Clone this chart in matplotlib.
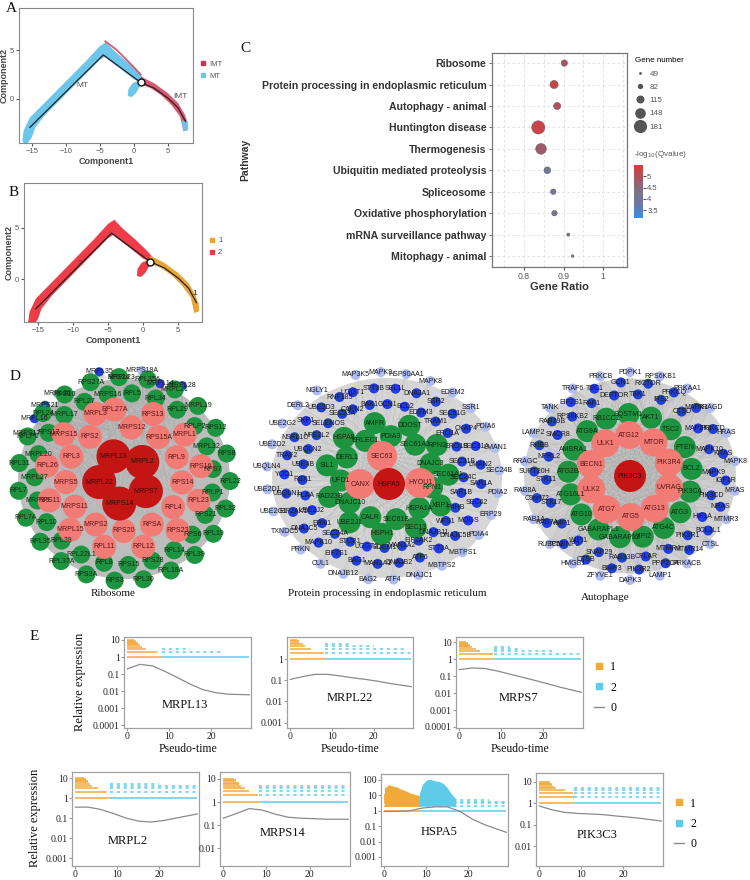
import numpy as np
import matplotlib
matplotlib.use('Agg')
import matplotlib.pyplot as plt
from matplotlib.patches import Circle, Ellipse
from matplotlib.lines import Line2D
from matplotlib.collections import LineCollection
from matplotlib.colors import LinearSegmentedColormap, Normalize
from matplotlib.cm import ScalarMappable
from matplotlib.ticker import NullLocator

SANS = 'Liberation Sans'
SERIF = 'Liberation Serif'
plt.rcParams['font.family'] = [SANS, 'DejaVu Sans']

# ===================== DATA =====================
# Panel A / B : pseudotime trajectory (Component1, Component2)
traj_x = [-15.3, -4.5, 1.0, 3.0, 5.0, 6.5, 7.6]
traj_y = [-2.9, 4.5, 1.7, 1.1, 0.1, -0.9, -2.3]
arm_x = [-16.4, -16.2, -15.3, -13, -10, -7, -5, -4.1, -3, -1, 0.5, 1.3,
         1.3, 0, -2, -4.3, -5, -7, -10, -13, -14.5, -15.0, -15.6, -16.2]
arm_y = [-4.2, -3.2, -1.9, -0.3, 1.8, 3.9, 5.4, 5.8, 5.0, 3.8, 2.8, 2.2,
         1.6, 2.0, 3.1, 4.3, 4.0, 2.6, 0.5, -1.6, -2.9, -3.9, -4.5, -4.6]
blob_x = [-0.9, -0.8, -0.2, 0.8, 0.9, 0.3, -0.3]
blob_y = [0.3, 1.0, 1.6, 1.9, 1.3, 0.6, 0.2]
branch_x = [1.0, 3.0, 5.0, 6.5, 7.5, 7.9, 7.9, 7.3, 6.8, 5.5, 4.0, 2.5, 1.0]
branch_y = [2.3, 1.6, 0.6, -0.4, -1.6, -2.4, -3.2, -3.3, -1.8, -0.6, 0.4, 1.1, 1.5]
tip_x = [7.0, 7.9, 8.0, 7.3]
tip_y = [-2.2, -2.3, -3.1, -3.3]
imt_edge_x = [-4.2, -2.5, -0.5, 1.0]
imt_edge_y = [5.9, 5.0, 3.6, 2.5]

# Panel C : KEGG enrichment
pathways = ['Ribosome', 'Protein processing in endoplasmic reticulum',
            'Autophagy - animal', 'Huntington disease', 'Thermogenesis',
            'Ubiquitin mediated proteolysis', 'Spliceosome',
            'Oxidative phosphorylation', 'mRNA surveillance pathway',
            'Mitophagy - animal']
gene_ratio = [0.902, 0.876, 0.884, 0.836, 0.843, 0.859, 0.874, 0.877, 0.912, 0.923]
gene_number = [95, 118, 105, 181, 150, 100, 84, 84, 55, 49]
neglog_q = [4.9, 5.3, 5.0, 5.3, 4.8, 4.0, 4.1, 4.2, 4.2, 4.2]
size_legend = [49, 82, 115, 148, 181]
q_ticks = [3.5, 4, 4.5, 5]

# Panel D : PPI networks (node names by layer)
ribo_core = ['MRPL13', 'MRPL2', 'MRPS7', 'MRPS14', 'MRPL22']
ribo_mid = ['RPL27A', 'MRPS12', 'RPS13', 'RPS15A', 'MRPL1', 'RPL9', 'RPS16', 'RPS14',
            'RPL23', 'RPL4', 'RPS23', 'RPSA', 'RPL12', 'RPS20', 'RPL11', 'MRPS2',
            'MRPL15', 'MRPS11', 'RPS11', 'MRPS5', 'RPL26', 'RPL3', 'MRPS15', 'RPS2', 'MRPL3']
ribo_outer = ['RPL31', 'MRPL20', 'RPLP0', 'RPS17', 'RPL24', 'MRPL17', 'RPS10', 'RPL27',
              'RPS27A', 'MRPS16', 'RPS24', 'RPL5', 'RPL35A', 'RPL34', 'MRPL21', 'RPL29',
              'MRPL19', 'RPLP2', 'RPS12', 'MRPL32', 'RPS8', 'RPS7', 'RPL22', 'RPLP1',
              'RPL32', 'RPS21', 'RPL19', 'RPS6', 'RPL39', 'RPL14', 'RPL18A', 'RPS28',
              'RPL30', 'RPS15', 'RPS3', 'RPL8', 'RPS3A', 'RPL22L1', 'RPL37A', 'RPL38',
              'RPL35', 'RPL10', 'RPL7A', 'MRPS9', 'RPL7', 'MRPL27']
ribo_rim_top = ['MRPL35', 'MRPL23', 'MRPS18A', 'MRPL14', 'MRPL28']
ribo_rim_left = ['MRPL36', 'MRPS21', 'MRPL16', 'MRPS17']

er_core = ['HSPA5']
er_mid = ['SEC63', 'HYOU1', 'CANX']
er_outer = ['SIL1', 'DERL1', 'HSPA8', 'ERLEC1', 'AMFR', 'PDIA3', 'DDOST', 'SEC61A2',
            'RPN2', 'DNAJC3', 'SEC61A1', 'RPN1', 'XBP1', 'HSPA1A', 'SEC13', 'SEC61B',
            'HSPH1', 'CALR', 'UBE2J1', 'DNAJC10', 'RAD23B', 'UFD1']
er_rim = ['CAPN2', 'UGGT1', 'MAP3K5', 'BAK1', 'STT3B', 'MAPK9', 'GCN1', 'SEL1L',
          'HSP90AA1', 'BCL2', 'DNAJA1', 'MAPK8', 'EDEM3', 'SSR2', 'EDEM2', 'TRAM1',
          'SEC61G', 'SSR1', 'ERO1A', 'CKAP4', 'PDIA6', 'ERO1B', 'SEC31A', 'LMAN1',
          'SEC31B', 'LMAN2', 'SEC24B', 'SEC24C', 'SAR1A', 'PDIA2', 'SAR1B', 'SEC62',
          'ERP29', 'P4HB', 'MOGS', 'PDIA4', 'WFS1', 'DNAJC5B', 'MBTPS1', 'DNAJB11',
          'STT3A', 'MBTPS2', 'EIF2AK2', 'ATF6', 'DNAJC1', 'MAN1A2', 'DNAJB2', 'ATF4',
          'EDEM1', 'MAN1A1', 'BAG2', 'UGGT2', 'BAG1', 'DNAJB12', 'STUB1', 'EIF2S1',
          'CUL1', 'SEC24A', 'MAPK10', 'PRKN', 'ERN1', 'DNAJC5', 'TXNDC5', 'UBE2J2',
          'EIF2AK1', 'UBE2G1', 'PLAA', 'UBQLN1', 'UBE2D1', 'RBX1', 'YOD1', 'UBQLN4',
          'UBE4B', 'TRAF2', 'UBE2D2', 'UBQLN2', 'NSFL1C', 'UBE2G2', 'NFE2L2', 'SKP1',
          'DERL2', 'SELENOS', 'UBE2D3', 'NGLY1', 'SEC23A', 'RNF185']

atg_core = ['PIK3C3']
atg_mid = ['ULK1', 'ATG12', 'MTOR', 'PIK3R4', 'UVRAG', 'ATG13', 'ATG5', 'ATG7', 'ULK2', 'BECN1']
atg_outer = ['ATG2B', 'AMBRA1', 'ATG9A', 'RB1CC1', 'SQSTM1', 'AKT1', 'TSC2', 'PTEN',
             'BCL2', 'PIK3CA', 'ATG3', 'ATG4C', 'WIPI2', 'GABARAPL2', 'GABARAPL1',
             'ATG10', 'ATG16L1']
atg_rim = ['SMCR8', 'RAB39B', 'TANK', 'RPS6KB2', 'EIF2S1', 'TRAF6', 'RAF1', 'TSC1',
           'PRKCB', 'DEPTOR', 'GCN1', 'PDPK1', 'TBK1', 'RICTOR', 'RPS6KB1', 'IRS2',
           'PRKCQ', 'PRKAA1', 'CTSD', 'MAPK1', 'RRAGD', 'MAP2K1', 'PRKCD', 'HRAS',
           'MAPK10', 'KRAS', 'MAPK8', 'MAPK9', 'IGF1R', 'MRAS', 'PIK3CD', 'NRAS',
           'MTMR3', 'HIF1A', 'BCL2L1', 'CTSL', 'PIK3R1', 'MTMR14', 'PRKACB', 'MTMR4',
           'PPP2CA', 'LAMP1', 'CFLAR', 'PIK3R2', 'DAPK3', 'RAB33B', 'BNIP3', 'ZFYVE1',
           'SNAP29', 'CTSB', 'HMGB1', 'WIPI1', 'TP53INP2', 'RUBCN', 'VMP1', 'RAB7A',
           'RAB1A', 'STX17', 'C9orf72', 'RAB8A', 'STK11', 'SUPT20H', 'RRAGC', 'NPRL2',
           'RHEB', 'LAMP2']

# Panel E : expression along pseudotime
pt_grid = [0, 3, 6, 9, 12, 15, 18, 21, 24, 29]
MRPL13_fit = [0.2, 0.37, 0.3, 0.14, 0.06, 0.025, 0.012, 0.008, 0.0065, 0.006]
MRPL22_fit = [0.11, 0.15, 0.19, 0.19, 0.16, 0.13, 0.11, 0.09, 0.07, 0.05]
MRPS7_fit = [0.24, 0.3, 0.28, 0.2, 0.13, 0.085, 0.055, 0.035, 0.022, 0.011]
MRPL2_fit = [0.35, 0.35, 0.27, 0.17, 0.1, 0.07, 0.063, 0.075, 0.1, 0.16]
MRPS14_fit = [0.2, 0.32, 0.52, 0.45, 0.3, 0.22, 0.2, 0.19, 0.18, 0.18]
HSPA5_fit = [0.9, 0.92, 1.0, 1.5, 1.8, 1.8, 0.9, 0.28, 0.12, 0.04]
PIK3C3_fit = [0.75, 0.5, 0.38, 0.34, 0.32, 0.3, 0.26, 0.23, 0.2, 0.15]
count_levels = [1, 2, 3, 4, 5, 6, 7, 8, 9, 10]
state_split = 8.3
# pseudotime at which each count level of state 1 / state 2 cells ends
MRPL13_s1 = [8.3, 7.0, 4.5, 3.5, 3.0, 2.5, 2.5, 2.0, 2.0, 1.5]
MRPL13_s2 = [29, 22, 15, 0, 0]
MRPL22_s1 = [8.3, 8.0, 5.0, 3.5, 3.0, 2.0, 2.0, 1.5, 0, 0]
MRPL22_s2 = [29, 29, 28, 20, 14]
MRPS7_s1 = [8.3, 8.0, 5.0, 4.0, 3.0, 2.5, 2.5, 2.0, 2.0, 1.5]
MRPS7_s2 = [29, 29, 22, 15, 12]
MRPL2_s1 = [8.3, 7.5, 5.5, 4.0, 3.5, 3.0, 3.0, 2.5, 2.5, 2.0]
MRPL2_s2 = [29, 29, 29, 29, 20]
MRPS14_s1 = [8.3, 8.0, 6.0, 5.0, 4.0, 3.5, 3.5, 3.0, 3.0, 2.5]
MRPS14_s2 = [29, 29, 29, 29, 29]
HSPA5_s1 = [8.3, 8.3, 8.0, 8.0, 7.0, 6.0, 6.0, 5.0, 5.0, 4.0]
HSPA5_s2 = [29, 29, 29, 29, 25]
PIK3C3_s1 = [8.3, 8.3, 8.0, 6.0, 4.0, 3.5, 3.0, 3.0, 2.5, 2.5]
PIK3C3_s2 = [29, 29, 29, 29, 29]
HSPA5_cloud1_x = [0, 1, 2, 3, 4, 5, 6, 7, 8.3]
HSPA5_cloud1_top = [30, 50, 40, 35, 25, 20, 15, 12, 10]
HSPA5_cloud2_x = [8.3, 9, 10, 11, 12, 13, 14, 15, 16, 17]
HSPA5_cloud2_top = [12, 50, 100, 110, 90, 80, 60, 30, 12, 6]

# ===================== FIGURE =====================
W, H = 750, 880
fig = plt.figure(figsize=(7.5, 8.8), dpi=100)


def px_axes(l, t, r, b):
    return fig.add_axes([l / W, 1 - b / H, (r - l) / W, (b - t) / H])


ax0 = fig.add_axes([0, 0, 1, 1])
ax0.set_xlim(0, W)
ax0.set_ylim(H, 0)
ax0.axis('off')

for letter, (lx, ly) in zip('ABCDE', [(6, 9), (9, 193), (240, 48), (10, 377), (30, 636)]):
    ax0.text(lx, ly, letter, fontsize=11, family=SERIF, ha='left', va='center', color='#111')

# ---------- Panels A and B ----------
c_mt, c_imt = '#6cc5ea', '#cf2f4e'
c_s1, c_s2 = '#e9a534', '#ee3d48'


def traj_axes(rect, xlim, ylim):
    ax = px_axes(*rect)
    ax.set_xlim(*xlim)
    ax.set_ylim(*ylim)
    ax.set_xticks([-15, -10, -5, 0, 5])
    ax.set_yticks([0, 5])
    ax.tick_params(labelsize=5.5, colors='#555', length=2, pad=1.5)
    for s in ax.spines.values():
        s.set_color('#888')
        s.set_linewidth(0.8)
    ax.set_xlabel('Component1', fontsize=6.5, fontweight='bold', color='#444', labelpad=1.5)
    ax.set_ylabel('Component2', fontsize=6.5, fontweight='bold', color='#444', labelpad=1)
    return ax


axA = traj_axes((19, 8, 193, 143), (-16.9, 8.7), (-4.5, 9.3))
axA.fill(arm_x, arm_y, color=c_mt, lw=0)
axA.fill(blob_x, blob_y, color=c_mt, lw=0)
axA.fill(branch_x, branch_y, color=c_imt, alpha=0.8, lw=0)
axA.fill(tip_x, tip_y, color=c_mt, lw=0)
axA.plot(imt_edge_x, imt_edge_y, color=c_imt, lw=1.3, alpha=0.8)
axA.plot(traj_x, traj_y, color='#222', lw=0.9)
axA.plot([traj_x[2]], [traj_y[2]], 'o', ms=5, mfc='white', mec='#111', mew=1.0)
axA.text(-7.6, 1.4, 'MT', fontsize=6, color='#555', ha='center', va='center')
axA.text(6.8, 0.3, 'IMT', fontsize=6, color='#555', ha='center', va='center')
axA.legend(handles=[Line2D([], [], ls='', marker='s', ms=3.5, color=c_imt),
                    Line2D([], [], ls='', marker='s', ms=3.5, color=c_mt)],
           labels=['IMT', 'MT'], loc='upper left', bbox_to_anchor=(1.0, 0.66),
           frameon=False, fontsize=5.5, labelcolor='#555', handlelength=0.8,
           handletextpad=0.4, labelspacing=0.6)

axB = traj_axes((24, 183, 202, 322), (-17.0, 8.4), (-4.2, 9.4))
axB.fill(arm_x, arm_y, color=c_s2, lw=0)
axB.fill(blob_x, blob_y, color=c_s2, lw=0)
axB.fill(branch_x, branch_y, color=c_s1, lw=0)
axB.fill(tip_x, tip_y, color=c_s1, lw=0)
axB.plot(traj_x, traj_y, color='#222', lw=0.9)
axB.plot([traj_x[2]], [traj_y[2]], 'o', ms=5, mfc='white', mec='#111', mew=1.0)
axB.text(-9.0, 1.5, '2', fontsize=6, color='#444', ha='center', va='center')
axB.text(7.3, -1.4, '1', fontsize=6, color='#222', ha='center', va='center')
axB.legend(handles=[Line2D([], [], ls='', marker='s', ms=3.5, color=c_s1),
                    Line2D([], [], ls='', marker='s', ms=3.5, color=c_s2)],
           labels=['1', '2'], loc='upper left', bbox_to_anchor=(1.0, 0.66),
           frameon=False, fontsize=5.5, labelcolor='#555', handlelength=0.8,
           handletextpad=0.4, labelspacing=0.6)

# ---------- Panel C ----------
cmap = LinearSegmentedColormap.from_list('q', ['#3b8fe3', '#6b78a6', '#7c7488', '#a75462', '#d93b3b'])
norm = Normalize(3.15, 5.5)
axC = px_axes(492, 53, 627, 267)
yy = np.arange(len(pathways))
sz = [(2 + (n - 49) / 132 * 7.5) ** 2 for n in gene_number]
axC.scatter(gene_ratio, yy, s=sz, c=neglog_q, cmap=cmap, norm=norm, zorder=3,
            edgecolors='#555', linewidths=0.3)
axC.set_xlim(0.7186, 1.061)
axC.set_ylim(9.51, -0.47)
axC.set_yticks(yy)
axC.set_yticklabels(pathways, fontsize=7.6, fontweight='bold', color='#333')
axC.set_xticks([0.8, 0.9, 1.0])
axC.set_xticklabels(['0.8', '0.9', '1'])
axC.set_xticks([0.75, 0.85, 0.95, 1.05], minor=True)
axC.grid(True, which='both', ls=(0, (3, 3)), color='#dcdcdc', lw=0.6)
axC.set_axisbelow(True)
axC.tick_params(axis='x', labelsize=6.2, colors='#555', length=2, pad=1.5)
axC.tick_params(axis='x', which='minor', length=0)
axC.tick_params(axis='y', length=2, color='#777', pad=2)
for s in axC.spines.values():
    s.set_color('#777')
    s.set_linewidth(0.9)
axC.set_xlabel('Gene Ratio', fontsize=8, fontweight='bold', color='#333', labelpad=1)
fig.text(245 / W, 1 - 160 / H, 'Pathway', rotation=90, fontsize=7.5, fontweight='bold',
         color='#333', ha='center', va='center')
hs = [Line2D([], [], ls='', marker='o', ms=2 + (n - 49) / 132 * 7.5, color='#555', mew=0)
      for n in size_legend]
axC.legend(handles=hs, labels=[str(n) for n in size_legend], title='Gene number',
           loc='upper left', bbox_to_anchor=(628 / W, 1 - 50 / H), bbox_transform=fig.transFigure,
           frameon=False, fontsize=5.8, title_fontsize=5.8, labelcolor='#555',
           handlelength=1.2, handletextpad=0.6, labelspacing=0.7, alignment='left')
fig.text(634 / W, 1 - 154 / H, r'-log$_{10}$(Qvalue)', fontsize=5.8, color='#555', ha='left', va='center')
cax = px_axes(634, 165, 643, 218)
cb = fig.colorbar(ScalarMappable(norm=norm, cmap=cmap), cax=cax)
cb.outline.set_visible(False)
cb.set_ticks(q_ticks)
cb.set_ticklabels(['3.5', '4', '4.5', '5'])
cax.tick_params(labelsize=5.5, colors='#555', length=2, pad=1)

# ---------- Panel D : networks ----------
C_CORE, C_MID, C_OUT, C_RIM, C_RIM2 = '#c41414', '#f27b76', '#1c9440', '#1f3fd8', '#aebcf2'


def ring(n, cx, cy, radii, a0, step=None, sx=1.0):
    if step is None:
        step = 360.0 / n
    ang = np.deg2rad(a0 + step * np.arange(n))
    r = np.array([radii[i % len(radii)] for i in range(n)], dtype=float)
    return cx + sx * r * np.cos(ang), cy + r * np.sin(ang)


def net(cx, cy, bg_w, bg_h, bg_c, layers, fs):
    ax0.add_patch(Ellipse((cx, cy), bg_w, bg_h, fc=bg_c, ec='none', zorder=1))
    segs = []
    rim = [l for l in layers if l[4] == 'rim']
    hubs = [l for l in layers if l[4] in ('mid', 'core')]
    for lr in rim:
        for x, y in zip(lr[1], lr[2]):
            for hl in hubs:
                for hx, hy in zip(hl[1], hl[2]):
                    segs.append([(x, y), (hx, hy)])
    ax0.add_collection(LineCollection(segs, colors='#9a9a9a', linewidths=0.25, alpha=0.35, zorder=2))
    z = 3
    for names, xs, ys, rad, kind in layers:
        for i, (nm, x, y) in enumerate(zip(names, xs, ys)):
            if kind == 'rim':
                fc = C_RIM2 if i % 3 == 2 else C_RIM
            else:
                fc = {'core': C_CORE, 'mid': C_MID, 'out': C_OUT}[kind]
            ax0.add_patch(Circle((x, y), rad, fc=fc, ec='none', zorder=z))
        z += 1
    for names, xs, ys, rad, kind in layers:
        tc = {'core': '#3a0505', 'mid': '#5a1515', 'out': '#0f2a10', 'rim': '#1a1a1a'}[kind]
        for nm, x, y in zip(names, xs, ys):
            ax0.text(x, y, nm, fontsize=fs, ha='center', va='center', color=tc, zorder=20)


# Ribosome network
rcx, rcy = 124, 479
rx1, ry1 = ring(len(ribo_core), rcx, rcy, [25], -115)
rx2, ry2 = ring(len(ribo_mid), rcx, rcy, [70, 52], -97, sx=1.12)
rx3, ry3 = ring(len(ribo_outer), rcx, rcy, [102, 86], -171, sx=1.04)
rx4, ry4 = ring(len(ribo_rim_top), rcx, rcy, [110, 102], -103, step=11.25)
rx5, ry5 = ring(len(ribo_rim_left), rcx, rcy, [108], -128, step=-9)
net(rcx, rcy, 212, 200, '#bdbdbd',
    [(ribo_rim_top + ribo_rim_left, np.r_[rx4, rx5], np.r_[ry4, ry5], 4.6, 'rim'),
     (ribo_outer, rx3, ry3, 9, 'out'),
     (ribo_mid, rx2, ry2, 12, 'mid'),
     (ribo_core, rx1, ry1, 17, 'core')], 5.0)

# ER network
ecx, ecy = 387, 478
ex1, ey1 = np.array([ecx + 2]), np.array([ecy + 6])
ex2 = np.array([ecx - 5, ecx + 33, ecx - 27])
ey2 = np.array([ecy - 22, ecy + 5, ecy + 6])
ex3, ey3 = ring(len(er_outer), ecx, ecy, [56, 42], -167, sx=1.1)
ex4, ey4 = ring(len(er_rim), ecx - 4, ecy - 2, [72, 88, 104], -112, sx=1.12)
net(ecx, ecy, 230, 200, '#d6d6d6',
    [(er_rim, ex4, ey4, 5, 'rim'),
     (er_outer, ex3, ey3, 11, 'out'),
     (er_mid, ex2, ey2, 15, 'mid'),
     (er_core, ex1, ey1, 16, 'core')], 5.0)

# Autophagy network
acx, acy = 630, 476
ax1_, ay1_ = np.array([acx]), np.array([acy])
ax2_, ay2_ = ring(len(atg_mid), acx, acy, [41], -127)
ax3_, ay3_ = ring(len(atg_outer), acx, acy, [62], -176, sx=1.0)
ax4_, ay4_ = ring(len(atg_rim), acx, acy, [82, 94, 104], -150, sx=1.02)
net(acx, acy, 212, 195, '#d2d2d2',
    [(atg_rim, ax4_, ay4_, 5, 'rim'),
     (atg_outer, ax3_, ay3_, 11, 'out'),
     (atg_mid, ax2_, ay2_, 14, 'mid'),
     (atg_core, ax1_, ay1_, 16, 'core')], 5.0)

for t, (tx, ty) in zip(['Ribosome', 'Protein processing in endoplasmic reticulum', 'Autophage'],
                       [(113, 594), (387, 593), (605, 597)]):
    ax0.text(tx, ty, t, fontsize=8, family=SERIF, ha='center', va='center', color='#111')

# ---------- Panel E ----------
C1, C2, CF = '#f2a93b', '#5fcbe9', '#8a8a8a'
dec_lab = {100: '100', 10: '10', 1: '1', 0.1: '0.1', 0.01: '0.01', 0.001: '0.001', 0.0001: '0.0001'}

genes = ['MRPL13', 'MRPL22', 'MRPS7', 'MRPL2', 'MRPS14', 'HSPA5', 'PIK3C3']
fits = [MRPL13_fit, MRPL22_fit, MRPS7_fit, MRPL2_fit, MRPS14_fit, HSPA5_fit, PIK3C3_fit]
s1s = [MRPL13_s1, MRPL22_s1, MRPS7_s1, MRPL2_s1, MRPS14_s1, HSPA5_s1, PIK3C3_s1]
s2s = [MRPL13_s2, MRPL22_s2, MRPS7_s2, MRPL2_s2, MRPS14_s2, HSPA5_s2, PIK3C3_s2]
rects = [(124, 637, 251, 728), (287, 637, 413, 728), (456, 637, 583, 728),
         (72, 772, 199, 866), (220, 772, 350, 866), (381, 774, 508, 866), (536, 773, 663, 866)]
ylims = [(6.7e-5, 15), (5.6e-4, 11), (8.7e-5, 20), (4e-4, 20), (1.7e-3, 20), (2.6e-4, 245), (1.2e-3, 26)]
yticks = [[10, 1, 0.1, 0.01, 0.001, 0.0001], [1, 0.1, 0.01, 0.001], [10, 1, 0.1, 0.01, 0.001, 0.0001],
          [10, 1, 0.1, 0.01, 0.001], [10, 1, 0.1, 0.01], [100, 10, 1, 0.1, 0.01, 0.001], [10, 1, 0.1, 0.01]]
namepos = [(0.48, 0.25), (0.5, 0.33), (0.49, 0.33), (0.44, 0.27), (0.48, 0.35), (0.46, 0.37), (0.48, 0.33)]

for k, g in enumerate(genes):
    ax = px_axes(*rects[k])
    ax.set_yscale('log')
    ax.set_ylim(*ylims[k])
    ax.set_xlim(-0.8, 29.4)
    if g == 'HSPA5':
        ax.fill_between(HSPA5_cloud1_x, 2, HSPA5_cloud1_top, color=C1, lw=0)
        ax.fill_between(HSPA5_cloud2_x, 2, HSPA5_cloud2_top, color=C2, lw=0)
    for lvl, e in zip(count_levels, s1s[k]):
        if e > 0:
            ax.hlines(lvl, 0, e, color=C1, lw=1.1)
    for lvl, e in zip(count_levels, s2s[k]):
        if e > 0:
            ax.hlines(lvl, state_split, e, color=C2, lw=1.1,
                      linestyles='solid' if lvl == 1 else (0, (2, 2.5)))
    ax.plot(pt_grid, fits[k], color=CF, lw=0.9)
    ax.set_yticks(yticks[k])
    ax.set_yticklabels([dec_lab[v] for v in yticks[k]])
    ax.yaxis.set_minor_locator(NullLocator())
    ax.set_xticks([0, 10, 20])
    ax.tick_params(labelsize=7, length=2, color='#999', pad=1, labelcolor='#222')
    for lbl in ax.get_xticklabels() + ax.get_yticklabels():
        lbl.set_fontfamily(SERIF)
    for s in ax.spines.values():
        s.set_color('#a0a0a0')
        s.set_linewidth(0.9)
    ax.text(namepos[k][0], namepos[k][1], g, transform=ax.transAxes, fontsize=9,
            family=SERIF, ha='center', va='center', color='#111')
    if k < 3:
        ax.set_xlabel('Pseudo-time', fontsize=8.5, family=SERIF, color='#111', labelpad=1)
    if k in (2, 6):
        ax.legend(handles=[Line2D([], [], ls='', marker='s', ms=4.5, color=C1),
                           Line2D([], [], ls='', marker='s', ms=4.5, color=C2),
                           Line2D([], [], color=CF, lw=1)],
                  labels=['1', '2', '0'], loc='upper left', bbox_to_anchor=(1.0, 0.85),
                  frameon=False, prop={'family': SERIF, 'size': 8.5}, handlelength=0.9,
                  handletextpad=0.5, labelspacing=0.7)

fig.text(80 / W, 1 - 682 / H, 'Relative expression', rotation=90, fontsize=9, family=SERIF,
         ha='center', va='center', color='#111')
fig.text(35 / W, 1 - 818 / H, 'Relative expression', rotation=90, fontsize=9, family=SERIF,
         ha='center', va='center', color='#111')

fig.savefig('out.png', dpi=100)
